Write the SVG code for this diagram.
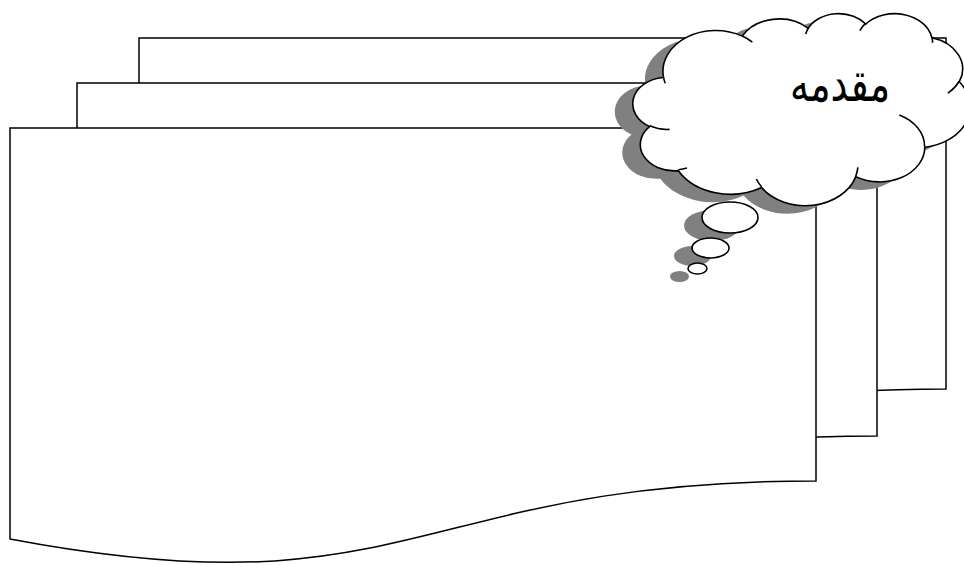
<svg xmlns="http://www.w3.org/2000/svg" width="964" height="565" viewBox="0 0 964 565">
<style>
.doc{fill:#fff;stroke:#000;stroke-width:1.5;stroke-linejoin:miter}
.cloud{fill:#fff;stroke:#000;stroke-width:1.6}
.stub{fill:none;stroke:#000;stroke-width:1.6}
.shadow{fill:#808080;stroke:none}
.label{font-family:"DejaVu Sans","Noto Sans",sans-serif;font-size:38px;fill:#000}
</style>
<defs>
<path id="cloudBody" d="M663.42,76.87 A52.68,40.84 0 0 1 742.26,36.13 A41.60,32.30 0 0 1 808.19,28.27 A34.05,26.42 0 0 1 865.74,24.04 A37.89,29.31 0 0 1 931.94,37.80 A41.60,32.32 0 0 1 959.24,81.72 A52.85,40.98 0 0 1 924.80,147.24 A45.13,34.96 0 0 1 855.78,176.63 A52.67,40.96 0 0 1 761.58,187.52 A60.22,46.86 0 0 1 678.30,170.66 A34.01,26.30 0 0 1 649.50,126.56 A33.90,26.42 0 0 1 663.15,77.48 Z"/>
</defs>
<rect width="964" height="565" fill="#fff"/>
<g id="doc-back">
<path class="doc" d="M139,38 H946 V389 C542.5,389 542.5,523 139,447 Z"/>
</g>
<g id="doc-middle">
<path class="doc" d="M77,83 H877 V436 C477,436 477,570.3 77,493.9 Z"/>
</g>
<g id="doc-front">
<path class="doc" d="M10,128 H816 V480.9 C413,480.9 413,615.3 10,539 Z"/>
</g>
<g id="connectors"></g>
<g id="callout">
<g transform="translate(-18,8)">
<use href="#cloudBody" class="shadow"/>
<ellipse class="shadow" cx="730" cy="217.5" rx="28" ry="15.5"/>
<ellipse class="shadow" cx="710.5" cy="248" rx="18.5" ry="10"/>
<ellipse class="shadow" cx="697.5" cy="268.5" rx="9.5" ry="5.5"/>
</g>
<use href="#cloudBody" class="cloud"/>
<path class="stub" d="M669.61,129.34 A33.90,26.42 0 0 1 649.85,125.80 M687.04,168.11 A34.01,26.30 0 0 1 678.39,169.80 M761.54,186.73 A52.67,40.96 0 0 1 756.33,179.00 M857.88,167.45 A52.67,40.96 0 0 1 855.80,175.93 M899.24,115.02 A45.13,34.96 0 0 1 924.60,146.73 M959.06,81.24 A41.60,32.32 0 0 1 947.77,93.13 M931.96,37.12 A37.89,29.31 0 0 1 932.56,42.73 M859.83,30.56 A37.89,29.31 0 0 1 865.61,23.41 M805.72,33.98 A34.05,26.42 0 0 1 808.52,27.80 M742.21,36.08 A52.68,40.84 0 0 1 752.35,42.07 M665.19,83.17 A52.68,40.84 0 0 1 663.43,76.87"/>
<ellipse class="cloud" cx="730" cy="217.5" rx="28" ry="15.5"/>
<ellipse class="cloud" cx="710.5" cy="248" rx="18.5" ry="10"/>
<ellipse class="cloud" cx="697.5" cy="268.5" rx="9.5" ry="5.5"/>
<text class="label" transform="translate(840,101) scale(1,1.3)" x="0" y="0" text-anchor="middle" direction="rtl">مقدمه</text>
</g>
</svg>
